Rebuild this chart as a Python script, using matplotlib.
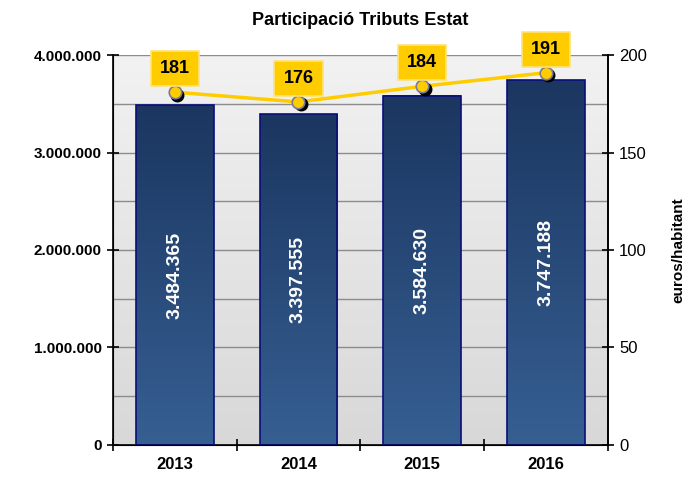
import numpy as np
import matplotlib
matplotlib.use("Agg")
import matplotlib.pyplot as plt

plt.rcParams["font.family"] = ["Liberation Sans", "DejaVu Sans"]

# Data
years = ["2013", "2014", "2015", "2016"]
totals = [3484365, 3397555, 3584630, 3747188]
total_labels = ["3.484.365", "3.397.555", "3.584.630", "3.747.188"]
per_capita = [181, 176, 184, 191]
left_ticks = [0, 1000000, 2000000, 3000000, 4000000]
left_tick_labels = ["0", "1.000.000", "2.000.000", "3.000.000", "4.000.000"]
right_ticks = [0, 50, 100, 150, 200]

fig = plt.figure(figsize=(6.97, 4.84), dpi=100)
ax = fig.add_axes([0.162, 0.081, 0.710, 0.805])

x = np.arange(len(years))
ax.set_xlim(-0.5, len(years) - 0.5)
ax.set_ylim(0, 4000000)

# background gradient
bg = np.linspace(0, 1, 256).reshape(-1, 1)
ax.imshow(bg, extent=[0, 1, 0, 1], transform=ax.transAxes, aspect="auto",
          cmap=matplotlib.colors.LinearSegmentedColormap.from_list("bg", ["#d8d8d8", "#f2f2f2"]),
          origin="lower", zorder=0)
ax.patch.set_visible(False)

# grid lines
for g in np.arange(500000, 4000001, 500000):
    ax.axhline(g, color="#8c8c8c", lw=1.0, zorder=1)

# bars with gradient
bar_cmap = matplotlib.colors.LinearSegmentedColormap.from_list("bar", ["#365f92", "#1b3660"])
w = 0.63
bars = ax.bar(x, totals, width=w, color="none", edgecolor="#0a0f7a", lw=1.2, zorder=3)
for b, h in zip(bars, totals):
    x0 = b.get_x()
    ax.imshow(bg, extent=[x0, x0 + w, 0, h], aspect="auto", cmap=bar_cmap,
              origin="lower", zorder=2)

for xi, h, lab in zip(x, totals, total_labels):
    ax.text(xi, h / 2, lab, rotation=90, ha="center", va="center",
            color="white", fontsize=14, fontweight="bold", zorder=4)

ax.set_xlim(-0.5, len(years) - 0.5)
ax.set_ylim(0, 4000000)

ax.set_yticks(left_ticks)
ax.set_yticklabels(left_tick_labels, fontsize=11, fontweight="bold")
ax.set_xticks(x)
ax.set_xticklabels(years, fontsize=12, fontweight="bold")
ax.tick_params(axis="x", length=0, pad=9)
ax.set_xticks(np.arange(-0.5, len(years)), minor=True)
ax.tick_params(axis="x", which="minor", direction="inout", length=8, width=1.2)
ax.tick_params(axis="y", direction="inout", length=8, width=1.2, pad=4)
ax.spines["top"].set_visible(False)
for s in ["left", "right", "bottom"]:
    ax.spines[s].set_linewidth(1.2)

ax.set_title("Participació Tributs Estat", fontsize=13, fontweight="bold", pad=22)

# right axis line
ax2 = ax.twinx()
ax2.set_ylim(0, 200)
ax2.set_yticks(right_ticks)
ax2.set_yticklabels([str(t) for t in right_ticks], fontsize=12)
ax2.tick_params(axis="y", direction="inout", length=8, width=1.2, pad=4)
ax2.spines["top"].set_visible(False)
ax2.spines["right"].set_linewidth(1.2)
ax2.set_ylabel("euros/habitant", fontsize=11, fontweight="bold", labelpad=18)

ax2.plot(x, per_capita, color="#ffcc00", lw=2.5, zorder=3)
ax2.plot(x + 0.02, np.array(per_capita) - 1.2, "o", color="black", ms=9, zorder=4)
ax2.plot(x, per_capita, "o", color="#ffcc00", mec="#7a7a9a", mew=1.2, ms=9, zorder=5)
for xi, v in zip(x, per_capita):
    ax2.annotate(str(v), (xi, v), xytext=(0, 17), textcoords="offset points",
                 ha="center", va="center", fontsize=13, fontweight="bold", zorder=6,
                 annotation_clip=False,
                 bbox=dict(boxstyle="square,pad=0.5", fc="#ffcc00", ec="#ffe27a", lw=1.2))

plt.savefig("out.png", dpi=100)
